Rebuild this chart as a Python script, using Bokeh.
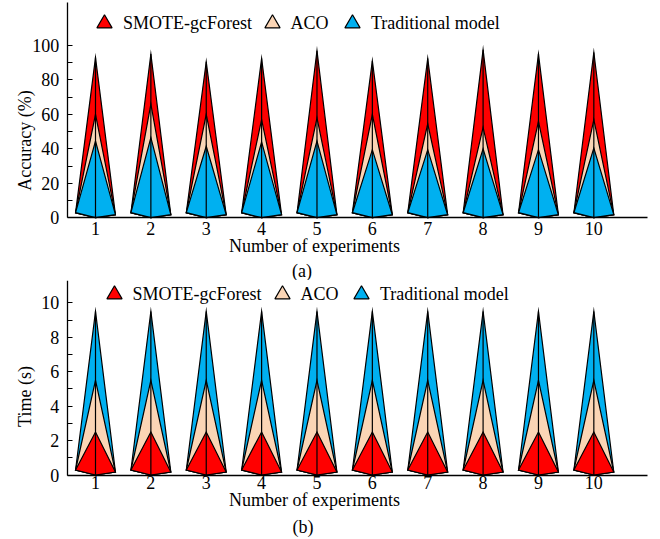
import math
from bokeh.plotting import figure
from bokeh.models import Range1d, FixedTicker, Legend, LegendItem, Label
from bokeh.layouts import column
from bokeh.embed import file_html
from bokeh.resources import INLINE

# ---------------- data ----------------
experiments = [1, 2, 3, 4, 5, 6, 7, 8, 9, 10]
series_names = ["SMOTE-gcForest", "ACO", "Traditional model"]

acc_smote = [93, 95, 90.5, 92.5, 97, 91, 92.5, 97.5, 95, 96]
acc_aco = [60, 66, 60, 57, 58, 60, 54.5, 52.5, 56, 57]
acc_trad = [44.5, 46.5, 41.5, 44, 44.5, 39.5, 39.5, 40, 39.5, 40.5]

time_smote = [2.5, 2.5, 2.5, 2.5, 2.5, 2.5, 2.5, 2.5, 2.5, 2.5]
time_aco = [5.5, 5.5, 5.5, 5.5, 5.5, 5.5, 5.5, 5.5, 5.5, 5.5]
time_trad = [9.5, 9.5, 9.5, 9.5, 9.5, 9.5, 9.5, 9.5, 9.5, 9.5]

acc_ticks = [0, 20, 40, 60, 80, 100]
acc_minor = [10, 30, 50, 70, 90]
time_ticks = [0, 2, 4, 6, 8, 10]
time_minor = [1, 3, 5, 7, 9]

# ---------------- style / layout ----------------
colors = {"SMOTE-gcForest": "#FF0000", "ACO": "#FBD5B5", "Traditional model": "#00B0F0"}
FONT = "Liberation Serif"
FS = "18px"
HALF_W = 0.36
W = 656
PX_X1 = 95.0          # pixel of x = 1
PX_PER_X = 55.37      # pixels per experiment
AXIS_LEFT_PX = 66.7
AXIS_RIGHT_PX = 646.7
LEG_BOX = 38          # legend glyph box (triangle = 0.4 * box)


def px_to_x(px):
    return 1 + (px - PX_X1) / PX_PER_X


def make_panel(series, top, H, y0_px, ppu, axis_top_px, ticks, minor, ylabel,
               caption, legend_centers_px, legend_cy_px, ylab_px, xlab_px,
               cap_px, x_standoff):
    def py_to_y(py):
        return (y0_px - py) / ppu

    p = figure(width=W, height=H, frame_width=W, frame_height=H, min_border=0,
               x_range=Range1d(px_to_x(0), px_to_x(W)),
               y_range=Range1d(py_to_y(top + H), py_to_y(top)),
               output_backend="svg", toolbar_location=None)
    p.outline_line_color = None
    p.xgrid.visible = False
    p.ygrid.visible = False
    p.background_fill_color = "white"

    off_l = 5.0 / ppu
    off_r = 3.0 / ppu

    order = sorted(series, key=lambda s: -max(s[1]))
    for name, vals in order:
        xs = [[x - HALF_W, x, x + HALF_W, x] for x in experiments]
        ys = [[off_l, v, off_r, 0] for v in vals]
        p.patches(xs, ys, fill_color=colors[name], line_color="black",
                  line_width=1.2, line_join="miter")
    tops = [max(t) for t in zip(*[v for _, v in series])]
    p.segment(x0=experiments, y0=[0] * len(experiments), x1=experiments, y1=tops,
              line_color="black", line_width=1.2)

    # legend: one small legend per entry (proxy triangles, not drawn in the plot)
    hidden_y = [float("nan")] * len(experiments)
    for name, cx in zip(series_names, legend_centers_px):
        r = p.scatter(x=experiments, y=hidden_y, marker="triangle",
                      fill_color=colors[name], line_color="black", line_width=1.2)
        box_bottom_local = legend_cy_px + LEG_BOX / 2 - top
        lg = Legend(items=[LegendItem(label=name, renderers=[r])],
                    location=(cx - LEG_BOX / 2, H - box_bottom_local),
                    glyph_width=LEG_BOX, glyph_height=LEG_BOX, label_standoff=0,
                    padding=0, margin=0, border_line_alpha=0,
                    background_fill_alpha=0, label_text_font=FONT,
                    label_text_font_size=FS, label_text_color="black")
        p.add_layout(lg)

    # axes drawn at fixed data locations inside the frame
    p.xaxis.fixed_location = 0
    p.yaxis.fixed_location = px_to_x(AXIS_LEFT_PX)
    p.xaxis.bounds = (px_to_x(AXIS_LEFT_PX), px_to_x(AXIS_RIGHT_PX))
    p.yaxis.bounds = (0, py_to_y(axis_top_px))
    p.xaxis.ticker = FixedTicker(ticks=experiments)
    p.yaxis.ticker = FixedTicker(ticks=ticks, minor_ticks=minor)
    for ax in (p.xaxis, p.yaxis):
        ax.axis_line_color = "black"
        ax.axis_line_width = 1.3
        ax.major_label_text_font = FONT
        ax.major_label_text_font_size = FS
        ax.major_label_text_color = "black"
    p.xaxis.major_tick_in = 0
    p.xaxis.major_tick_out = 0
    p.xaxis.minor_tick_in = 0
    p.xaxis.minor_tick_out = 0
    p.xaxis.major_label_standoff = x_standoff
    p.yaxis.major_tick_in = 5
    p.yaxis.major_tick_out = 0
    p.yaxis.minor_tick_in = 5
    p.yaxis.minor_tick_out = 0
    p.yaxis.major_tick_line_color = "black"
    p.yaxis.minor_tick_line_color = "black"
    p.yaxis.major_tick_line_width = 1.2
    p.yaxis.minor_tick_line_width = 1.2
    p.yaxis.major_label_standoff = 8

    def add_text(text, pos, angle=0.0):
        p.add_layout(Label(x=px_to_x(pos[0]), y=py_to_y(pos[1]),
                           x_units="data", y_units="data", text=text,
                           angle=angle, text_align="center",
                           text_baseline="middle", text_font=FONT,
                           text_font_size=FS, text_color="black"))

    add_text(ylabel, ylab_px, math.pi / 2)
    add_text("Number of experiments", xlab_px)
    add_text(caption, cap_px)
    return p


p1 = make_panel([("SMOTE-gcForest", acc_smote), ("ACO", acc_aco),
                 ("Traditional model", acc_trad)],
                top=0, H=280, y0_px=217.2, ppu=1.722, axis_top_px=2,
                ticks=acc_ticks, minor=acc_minor, ylabel="Accuracy (%)",
                caption="(a)", legend_centers_px=(104, 271.5, 352),
                legend_cy_px=23,
                ylab_px=(24, 140), xlab_px=(314, 245), cap_px=(301.5, 270),
                x_standoff=4)
p2 = make_panel([("SMOTE-gcForest", time_smote), ("ACO", time_aco),
                 ("Traditional model", time_trad)],
                top=280, H=258, y0_px=474.5, ppu=17.22, axis_top_px=280,
                ticks=time_ticks, minor=time_minor, ylabel="Time (s)",
                caption="(b)", legend_centers_px=(113.5, 281.5, 361),
                legend_cy_px=294,
                ylab_px=(24, 396), xlab_px=(314, 499), cap_px=(302.5, 526),
                x_standoff=1)

layout = column(p1, p2, spacing=0)
open("out.html", "w").write(file_html(layout, INLINE))
